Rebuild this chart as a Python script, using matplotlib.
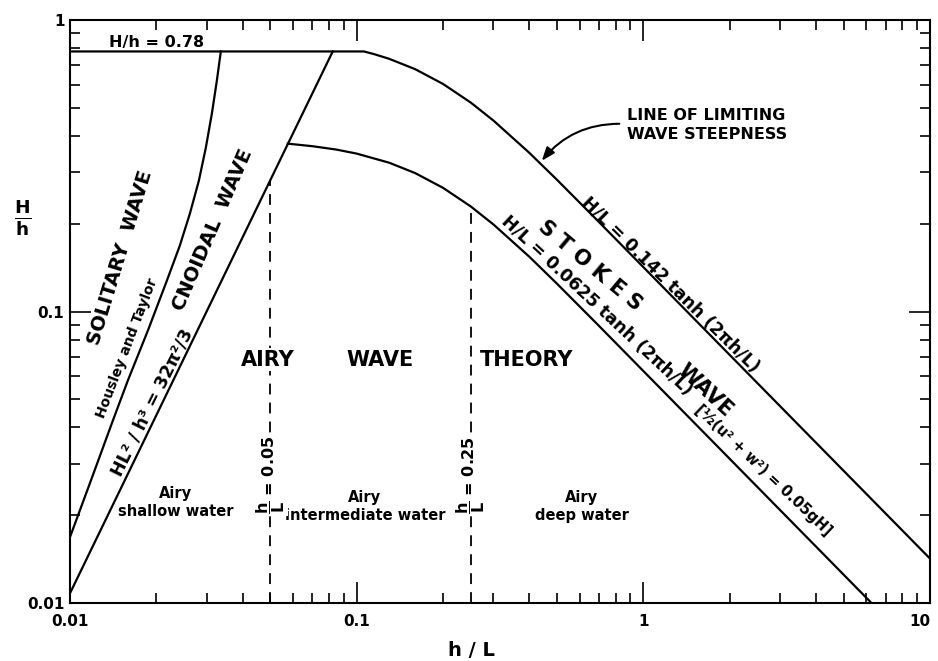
import matplotlib
matplotlib.use("Agg")
import matplotlib.pyplot as plt

# --- data (h/L on x, H/h on y) ---
# breaking limit H/h = 0.78 joined to H/L = 0.142 tanh(2 pi h/L)
limit_x = [0.01, 0.106, 0.115, 0.13, 0.16, 0.2, 0.25, 0.3, 0.4, 0.5, 0.7, 1.0, 2.0, 5.0, 10.0]
limit_y = [0.78, 0.78, 0.7637, 0.7356, 0.6781, 0.6036, 0.5210, 0.4519, 0.3504, 0.2829,
           0.2028, 0.142, 0.071, 0.0284, 0.0142]

# H/L = 0.0625 tanh(2 pi h/L)
stokes_x = [0.0575, 0.07, 0.085, 0.1, 0.13, 0.16, 0.2, 0.25, 0.3, 0.4, 0.5, 0.7, 1.0, 2.0, 6.25]
stokes_y = [0.3765, 0.3691, 0.3593, 0.3481, 0.3238, 0.2984, 0.2657, 0.2293, 0.1989, 0.1542,
            0.1245, 0.0893, 0.0625, 0.03125, 0.01]

# Housley and Taylor (solitary wave bound)
solitary_x = [0.01, 0.01184, 0.01412, 0.01592, 0.0187, 0.02178, 0.02416, 0.02619, 0.02815,
              0.02977, 0.03124, 0.03252, 0.03358]
solitary_y = [0.01683, 0.02638, 0.04233, 0.05803, 0.08609, 0.1277, 0.1683, 0.2166, 0.2809,
              0.3645, 0.4764, 0.618, 0.78]

# HL^2/h^3 = 32 pi^2 / 3 (cnoidal bound)
cnoidal_x = [0.01, 0.0825]
cnoidal_y = [0.0108, 0.78]

# shallow / intermediate / deep water limits
limits_hl = [0.05, 0.25]
limits_top = [0.28, 0.229]
limits_lbl = ["0.05", "0.25"]

xticks = [0.01, 0.1, 1, 10]
xtick_lbl = ["0.01", "0.1", "1", "10"]
yticks = [0.01, 0.1, 1]
ytick_lbl = ["0.01", "0.1", "1"]

plt.rcParams["font.family"] = ["DejaVu Sans"]
plt.rcParams["mathtext.fontset"] = "dejavusans"

fig = plt.figure(figsize=(9.38, 6.61), dpi=100)
ax = fig.add_axes([70 / 938, 58 / 661, 860 / 938, 583 / 661])
ax.set_xscale("log")
ax.set_yscale("log")
ax.set_xlim(0.01, 10)
ax.set_ylim(0.01, 1)

lw = 1.6
ax.plot(limit_x, limit_y, color="black", lw=lw)
ax.plot(stokes_x, stokes_y, color="black", lw=lw)
ax.plot(solitary_x, solitary_y, color="black", lw=lw)
ax.plot(cnoidal_x, cnoidal_y, color="black", lw=lw)
for xv, top in zip(limits_hl, limits_top):
    ax.plot([xv, xv], [0.01, top], color="black", lw=1.3, ls=(0, (6, 4.5)))

for s in ax.spines.values():
    s.set_linewidth(1.5)
ax.set_xticks(xticks)
ax.set_xticklabels(xtick_lbl)
ax.set_yticks(yticks)
ax.set_yticklabels(ytick_lbl)
ax.tick_params(which="both", direction="in", top=True, right=True, width=1.2)
ax.tick_params(which="major", length=15, labelsize=11)
ax.tick_params(which="minor", length=7.5)
ax.tick_params(axis="x", pad=8)
ax.tick_params(axis="y", pad=4)
for t in ax.get_xticklabels() + ax.get_yticklabels():
    t.set_fontweight("bold")
ax.get_xticklabels()[-1].set_horizontalalignment("right")

ax.text(-0.055, 0.66, r"$\mathbf{\frac{H}{h}}$", transform=ax.transAxes, fontsize=19,
        ha="center", va="center")
ax.text(0.467, -0.081, "h / L", transform=ax.transAxes, fontsize=14, fontweight="bold",
        ha="center", va="center")

T = ax.transAxes
bold = dict(fontweight="bold", ha="center", va="center", transform=T)

ax.text(0.101, 0.962, "H/h = 0.78", fontsize=11.5, **bold)
ax.text(0.648, 0.82, "LINE OF LIMITING\nWAVE STEEPNESS", fontsize=11.5, fontweight="bold",
        ha="left", va="center", linespacing=1.3, transform=T)
ax.annotate("", xy=(0.5465, 0.7547), xycoords=T, xytext=(0.642, 0.822), textcoords=T,
            arrowprops=dict(arrowstyle="-|>,head_length=0.8,head_width=0.3", color="black",
                            lw=1.5, connectionstyle="arc3,rad=0.25"))

ax.text(0.058, 0.592, "SOLITARY  WAVE", fontsize=14, rotation=73, **bold)
ax.text(0.066, 0.437, "Housley and Taylor", fontsize=10, rotation=69, **bold)
ax.text(0.166, 0.640, "CNOIDAL  WAVE", fontsize=14, rotation=66.5, **bold)
ax.text(0.0953, 0.343, "HL² / h³ = 32π²/3", fontsize=12.5, rotation=63.5, **bold)

box = dict(facecolor="white", edgecolor="none", pad=1.0)
ax.text(0.230, 0.417, "AIRY", fontsize=15, bbox=box, **bold)
ax.text(0.360, 0.417, "WAVE", fontsize=15, **bold)
ax.text(0.531, 0.417, "THEORY", fontsize=15, **bold)

ax.text(0.605, 0.578, "S T O K E S", fontsize=15, rotation=-40, **bold)
ax.text(0.738, 0.365, "WAVE", fontsize=15, rotation=-43, **bold)
ax.text(0.698, 0.545, "H/L = 0.142 tanh (2πh/L)", fontsize=12.5, rotation=-44.5, **bold)
ax.text(0.612, 0.511, "H/L = 0.0625 tanh (2πh/L)", fontsize=12.5, rotation=-43, **bold)
ax.text(0.806, 0.228, "[½(u² + w²) = 0.05gH]", fontsize=10.5, rotation=-43.5, **bold)

ax.text(0.123, 0.172, "Airy\nshallow water", fontsize=10.5, linespacing=1.25, **bold)
ax.text(0.343, 0.165, "Airy\nintermediate water", fontsize=10.5, linespacing=1.25, **bold)
ax.text(0.595, 0.165, "Airy\ndeep water", fontsize=10.5, linespacing=1.25, **bold)

for xv, lbl in zip(limits_hl, limits_lbl):
    ax.text(xv, 0.0275, r"$\dfrac{\mathbf{h}}{\mathbf{L}}$ = " + lbl, fontsize=11.5,
            rotation=90, fontweight="bold", ha="center", va="center", bbox=box)

fig.savefig("out.png", dpi=100)
